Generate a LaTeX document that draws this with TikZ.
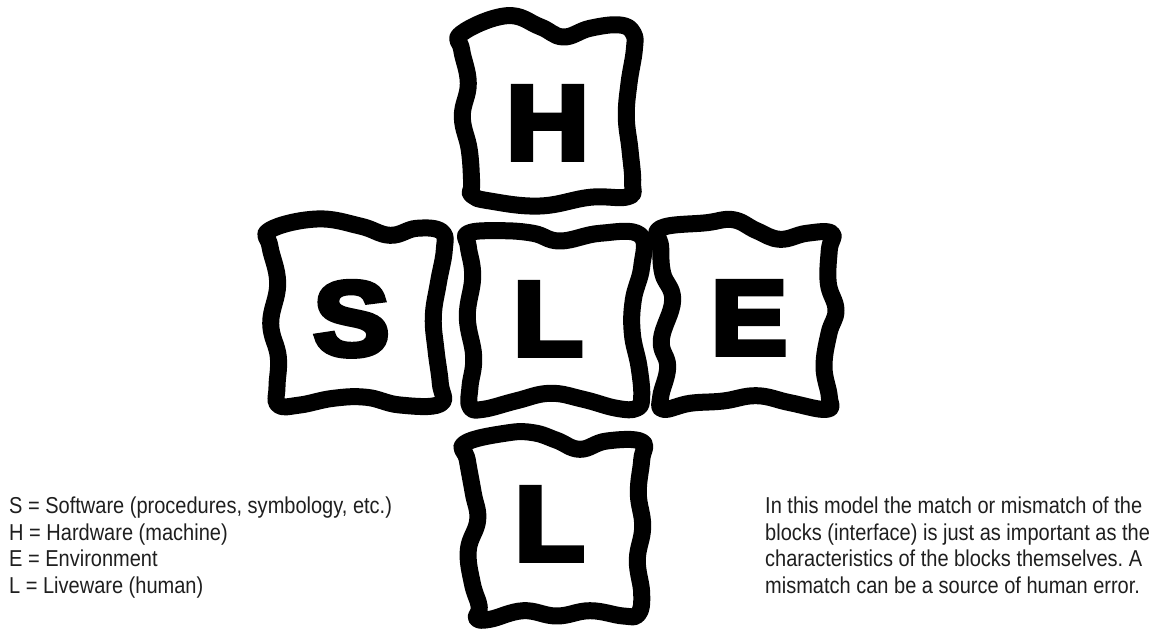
\documentclass[tikz,border=0pt]{standalone}
\usepackage{fontspec}
\setmainfont{Liberation Sans}
\newfontfamily\bigfont[FakeBold=5.5,FakeStretch=1.09]{Liberation Sans Bold}
\newfontfamily\smallfont[FakeStretch=0.87]{Liberation Sans}
\frenchspacing
\begin{document}
\begin{tikzpicture}[x=1pt,y=-1pt,
  block/.style={line width=17pt, line join=round, draw=black},
  letter/.style={anchor=base, inner sep=0pt, font=\bigfont\fontsize{105}{105}\selectfont},
  legend/.style={anchor=base west, inner sep=0pt, text=black!88, font=\smallfont\fontsize{23}{27}\selectfont}]
\fill[white] (0,0) rectangle (1164,629);
\useasboundingbox (0,0) rectangle (1164,629);

% H block
\draw[block] plot[smooth cycle, tension=0.7] coordinates {
 (461.7,33.3) (506.7,15.7) (540,26.7) (563.3,37) (590,28.3) (620,25) (633.3,33.3)
 (634.3,50) (629,83.3) (626.3,116.7) (630,150) (632.7,183.3) (628,196.7)
 (590,197.3) (540,206) (490,201) (471.7,195)
 (471.7,183.3) (469.3,150) (462.3,116.7) (468.3,83.3) (461.7,50)};

% S block
\draw[block] plot[smooth cycle, tension=0.7] coordinates {
 (270,230) (316.7,219) (360,226) (390,235.3) (416.7,228.3) (441.7,231.7)
 (444.3,250) (438.3,283.3) (433.3,316.7) (436,350) (440.3,383.3) (440,404)
 (400,405) (366.7,397.3) (333.3,398.3) (300,405) (278.3,405)
 (277,386.7) (278.3,356.7) (270.7,323.3) (277.7,283.3) (270,246.7)};

% centre L block
\draw[block] plot[smooth cycle, tension=0.7] coordinates {
 (468.3,233.3) (500,230.7) (533.3,233.3) (560,241) (600,233.3) (640,235)
 (641.7,266.7) (633.3,300) (632.3,333.3) (639,366.7) (641.7,396.7) (636.7,408.3)
 (616.7,408.3) (583.3,399.3) (550,393.3) (516.7,400.7) (483.3,409.3) (470,406.7)
 (470,386.7) (473.7,356.7) (467.3,316.7) (472.7,276.7) (468.3,246.7)};

% E block
\draw[block] plot[smooth cycle, tension=0.7] coordinates {
 (660.7,228.3) (706.7,222.7) (733.3,219.7) (756.7,230.7) (780,239.3) (806.7,233.3) (831.7,233.3)
 (829.3,250) (828.3,283.3) (836,310) (829,333.3) (824,366.7) (829.3,396.7) (826.7,409.3)
 (790,402.7) (756.7,395.7) (723.3,401) (690,403.3) (663.3,409.3)
 (660.7,396.7) (667.7,366.7) (661.3,340) (672.7,300) (662.7,273.3) (660.7,246.7)};

% bottom L block
\draw[block] plot[smooth cycle, tension=0.7] coordinates {
 (465,443.3) (506.7,433) (533.3,432.7) (556.7,440.3) (580,449.3) (606.7,441) (641.7,441.7)
 (641.7,460) (638.3,493.3) (642.7,526.7) (637.3,560) (641.7,593.3) (638.3,614)
 (623.3,616) (590,610.7) (556.7,616) (523.3,610.7) (490,619.3) (476.7,618.3)
 (479.3,606.7) (472.3,583.3) (468.3,550) (477.7,520) (473.3,493.3) (467.3,460)};

% letters
\node[letter] (h) at (547.5,159) {H};
\node[letter] (s) at (351.5,355) {S};
\node[letter] (lc) at (548,355) {L};
\node[letter] (e) at (749,354) {E};
\node[letter] (lb) at (549.5,560) {L};

% legend
\node[legend] (t1) at (9,513) {S = Software (procedures, symbology, etc.)};
\node[legend] (t2) at (9,540) {H = Hardware (machine)};
\node[legend] (t3) at (9,566.5) {E = Environment};
\node[legend] (t4) at (9,593) {L = Liveware (human)};

% note
\node[legend] (n1) at (765,513) {In this model the match or mismatch of the};
\node[legend] (n2) at (765,540) {blocks (interface) is just as important as the};
\node[legend] (n3) at (765,566.5) {characteristics of the blocks themselves. A};
\node[legend] (n4) at (765,593) {mismatch can be a source of human error.};
\end{tikzpicture}
\end{document}
